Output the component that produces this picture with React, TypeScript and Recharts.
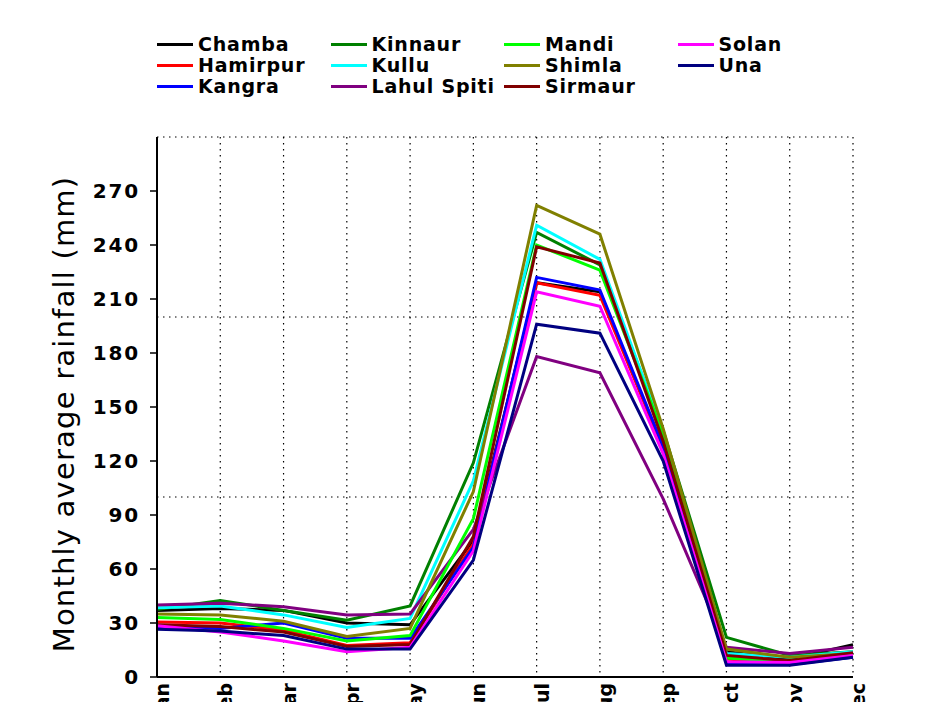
import React from 'react'
import { LineChart, Line, XAxis, YAxis, CartesianGrid, ReferenceLine, Legend, Label } from 'recharts'

const MONTHS = ['Jan', 'Feb', 'Mar', 'Apr', 'May', 'Jun', 'Jul', 'Aug', 'Sep', 'Oct', 'Nov', 'Dec']

// monthly average rainfall (mm)
const CHAMBA = [37, 38, 37, 30, 29, 76, 219, 214, 127, 14, 10, 18]
const HAMIRPUR = [30.5, 30, 26, 17.5, 19, 74, 219, 212, 127, 10, 8, 13]
const KANGRA = [28, 27, 30, 21.5, 21.5, 72, 222, 215, 128, 8, 7, 11]
const KINNAUR = [37.5, 42.5, 37, 31.5, 39.5, 119, 247, 229, 137, 22, 12, 14]
const KULLU = [38.5, 39.5, 34.5, 27.5, 32.5, 109, 251, 232, 136, 13, 11, 14]
const LAHUL_SPITI = [40, 41, 39, 34.5, 35, 82, 178, 169, 99, 16.5, 13, 16.5]
const MANDI = [33, 32, 27, 20, 23, 88, 240, 226, 135, 10.5, 8.5, 13]
const SHIMLA = [35, 34.5, 31, 22.5, 27, 103, 262, 246, 138, 15.5, 11, 13]
const SIRMAUR = [29, 28, 25, 17, 18, 78, 239, 230, 131, 12, 9, 13.5]
const SOLAN = [28.5, 25, 20, 14, 16.5, 70, 214, 206, 124, 8.5, 8, 12]
const UNA = [26.5, 25.5, 23, 15.5, 15.5, 65, 196, 191, 120, 6.5, 6.5, 11]

const Y_TICKS = [0, 30, 60, 90, 120, 150, 180, 210, 240, 270]
const GRID_Y = [100, 200, 300]

const SERIES = [
  { name: 'Chamba', color: '#000000', values: CHAMBA },
  { name: 'Hamirpur', color: '#ff0000', values: HAMIRPUR },
  { name: 'Kangra', color: '#0000ff', values: KANGRA },
  { name: 'Kinnaur', color: '#008000', values: KINNAUR },
  { name: 'Kullu', color: '#00ffff', values: KULLU },
  { name: 'Lahul Spiti', color: '#800080', values: LAHUL_SPITI },
  { name: 'Mandi', color: '#00ff00', values: MANDI },
  { name: 'Shimla', color: '#808000', values: SHIMLA },
  { name: 'Sirmaur', color: '#800000', values: SIRMAUR },
  { name: 'Solan', color: '#ff00ff', values: SOLAN },
  { name: 'Una', color: '#000080', values: UNA },
]

const data = MONTHS.map((month, i) => {
  const row: any = { month }
  SERIES.forEach(s => { row[s.name] = s.values[i] })
  return row
})

const FONT = '"DejaVu Sans", Verdana, sans-serif'

const XTick = (props: any) => {
  const { x, payload } = props
  const tx = x + 5
  const ty = 683
  return (
    <text
      x={tx}
      y={ty}
      transform={`rotate(-90 ${tx} ${ty})`}
      textAnchor="end"
      dominantBaseline="central"
      fontFamily={FONT}
      fontWeight="bold"
      fontSize={19}
      fill="#000"
    >
      {payload.value}
    </text>
  )
}

const YTick = (props: any) => {
  const { x, y, payload } = props
  return (
    <text
      x={x - 8}
      y={y}
      textAnchor="end"
      dominantBaseline="central"
      fontFamily={FONT}
      fontWeight="bold"
      fontSize={20}
      letterSpacing={1.8}
      fill="#000"
    >
      {payload.value}
    </text>
  )
}

const LegendBox = () => (
  <div style={{ position: 'relative', width: 944, height: 100, fontFamily: FONT }}>
    {SERIES.map((s, i) => {
      const col = Math.floor(i / 3)
      const row = i % 3
      const left = 157 + col * 173.5
      const top = 44 + row * 21
      return (
        <div key={s.name}>
          <div style={{ position: 'absolute', left, top: top - 1.5, width: 36, height: 3, background: s.color }} />
          <div
            style={{
              position: 'absolute',
              left: left + 41,
              top: top - 12,
              height: 24,
              lineHeight: '24px',
              fontSize: 19,
              fontWeight: 'bold',
              letterSpacing: 0.8,
              color: '#000',
              whiteSpace: 'nowrap',
            }}
          >
            {s.name}
          </div>
        </div>
      )
    })}
  </div>
)

export default function App() {
  return (
    <div style={{ width: 944, height: 702, overflow: 'hidden', background: '#fff' }}>
      <style>{'body{margin:0}'}</style>
      <LineChart width={944} height={702} data={data} margin={{ top: 37, right: 91, bottom: 0, left: 87 }}>
        <Legend
          verticalAlign="top"
          content={() => <LegendBox />}
          wrapperStyle={{ position: 'absolute', top: 0, left: 0, width: 944, height: 100 }}
        />
        <CartesianGrid horizontal={false} stroke="#000" strokeDasharray="1.5 4.5" strokeWidth={1.2} />
        {GRID_Y.map(v => (
          <ReferenceLine key={v} y={v} stroke="#000" strokeDasharray="1.5 4.5" strokeWidth={1.2} />
        ))}
        <XAxis
          dataKey="month"
          height={25}
          tickLine={false}
          axisLine={{ stroke: '#000', strokeWidth: 2 }}
          tick={<XTick />}
          interval={0}
        />
        <YAxis
          width={70}
          domain={[0, 300]}
          ticks={Y_TICKS}
          tickSize={7}
          tickLine={{ stroke: '#000', strokeWidth: 1.5 }}
          axisLine={{ stroke: '#000', strokeWidth: 2 }}
          tick={<YTick />}
        >
          <Label
            content={() => (
              <text
                x={64}
                y={414}
                transform="rotate(-90 64 414)"
                textAnchor="middle"
                dominantBaseline="central"
                fontFamily={FONT}
                fontSize={29}
                letterSpacing={1.2}
                fill="#000"
              >
                Monthly average rainfall (mm)
              </text>
            )}
          />
        </YAxis>
        {SERIES.map(s => (
          <Line
            key={s.name}
            type="linear"
            dataKey={s.name}
            stroke={s.color}
            strokeWidth={3}
            dot={false}
            activeDot={false}
            isAnimationActive={false}
          />
        ))}
      </LineChart>
    </div>
  )
}
